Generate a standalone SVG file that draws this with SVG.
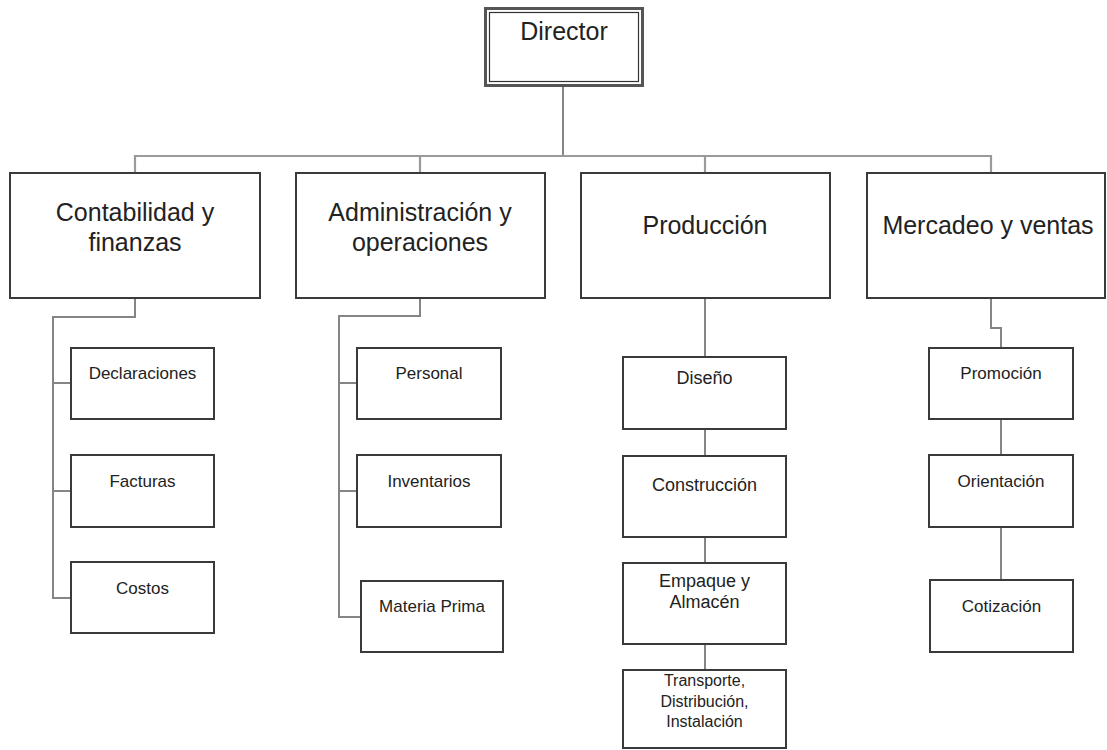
<svg xmlns="http://www.w3.org/2000/svg" width="1107" height="750" viewBox="0 0 1107 750">
<style>
  .box{fill:#fff;stroke:#3a3a3a;stroke-width:2}
  .t{font-family:"Liberation Sans",Arial,sans-serif;fill:#222;text-anchor:middle}
  .big{font-size:25px}
  .sm{font-size:17px}
  .md{font-size:18px}
  .xs{font-size:16px}
  .c{fill:none;stroke:#858585;stroke-width:2}
  .bus{fill:none;stroke:#9a9a9a;stroke-width:2.2}
</style>
<rect width="1107" height="750" fill="#fff"/>
<g id="connectors">
  <path class="c" d="M563 87 V156"/>
  <path class="bus" d="M135 173 V156 H991 V173"/>
  <path class="bus" d="M420 156 V173 M705 156 V173"/>
  <path class="c" d="M135 298 V317 H53 V598 H71 M53 383 H71 M53 491 H71"/>
  <path class="c" d="M420 298 V316 H339 V617 H361 M339 383 H357 M339 491 H357"/>
  <path class="c" d="M705 298 V357 M705 429 V456 M705 537 V563 M705 644 V670"/>
  <path class="c" d="M991 298 V328 H1001 V348 M1001 419 V455 M1001 527 V580"/>
</g>
<g id="director">
  <rect x="485.5" y="8.5" width="157" height="77" fill="#fff" stroke="#555" stroke-width="3"/>
  <rect x="489.5" y="12.5" width="149" height="69" fill="none" stroke="#333" stroke-width="1.2"/>
  <text class="t big" x="564" y="40">Director</text>
</g>
<g id="contabilidad">
  <rect class="box" x="10" y="173" width="250" height="125"/>
  <text class="t big" x="135" y="221">Contabilidad y</text>
  <text class="t big" x="135" y="251">finanzas</text>
</g>
<g id="administracion">
  <rect class="box" x="296" y="173" width="249" height="125"/>
  <text class="t big" x="420" y="221">Administración y</text>
  <text class="t big" x="420" y="251">operaciones</text>
</g>
<g id="produccion">
  <rect class="box" x="581" y="173" width="249" height="125"/>
  <text class="t big" x="705" y="234">Producción</text>
</g>
<g id="mercadeo">
  <rect class="box" x="867" y="173" width="238" height="125"/>
  <text class="t big" x="988" y="234">Mercadeo y ventas</text>
</g>
<g id="declaraciones">
  <rect class="box" x="71" y="348" width="143" height="71"/>
  <text class="t sm" x="142.5" y="379">Declaraciones</text>
</g>
<g id="facturas">
  <rect class="box" x="71" y="455" width="143" height="72"/>
  <text class="t sm" x="142.5" y="487">Facturas</text>
</g>
<g id="costos">
  <rect class="box" x="71" y="562" width="143" height="71"/>
  <text class="t sm" x="142.5" y="594">Costos</text>
</g>
<g id="personal">
  <rect class="box" x="357" y="348" width="144" height="71"/>
  <text class="t sm" x="429" y="379">Personal</text>
</g>
<g id="inventarios">
  <rect class="box" x="357" y="455" width="144" height="72"/>
  <text class="t sm" x="429" y="487">Inventarios</text>
</g>
<g id="materia-prima">
  <rect class="box" x="361" y="581" width="142" height="71"/>
  <text class="t sm" x="432" y="612">Materia Prima</text>
</g>
<g id="diseno">
  <rect class="box" x="623" y="357" width="163" height="72"/>
  <text class="t md" x="704.5" y="384">Diseño</text>
</g>
<g id="construccion">
  <rect class="box" x="623" y="456" width="163" height="81"/>
  <text class="t md" x="704.5" y="491">Construcción</text>
</g>
<g id="empaque">
  <rect class="box" x="623" y="563" width="163" height="81"/>
  <text class="t md" x="704.5" y="587">Empaque y</text>
  <text class="t md" x="704.5" y="608">Almacén</text>
</g>
<g id="transporte">
  <rect class="box" x="623" y="670" width="163" height="78"/>
  <text class="t xs" x="704.5" y="686">Transporte,</text>
  <text class="t xs" x="704.5" y="707">Distribución,</text>
  <text class="t xs" x="704.5" y="727">Instalación</text>
</g>
<g id="promocion">
  <rect class="box" x="929" y="348" width="144" height="71"/>
  <text class="t sm" x="1001" y="379">Promoción</text>
</g>
<g id="orientacion">
  <rect class="box" x="929" y="455" width="144" height="72"/>
  <text class="t sm" x="1001" y="487">Orientación</text>
</g>
<g id="cotizacion">
  <rect class="box" x="930" y="580" width="143" height="72"/>
  <text class="t sm" x="1001.5" y="612">Cotización</text>
</g>
</svg>
